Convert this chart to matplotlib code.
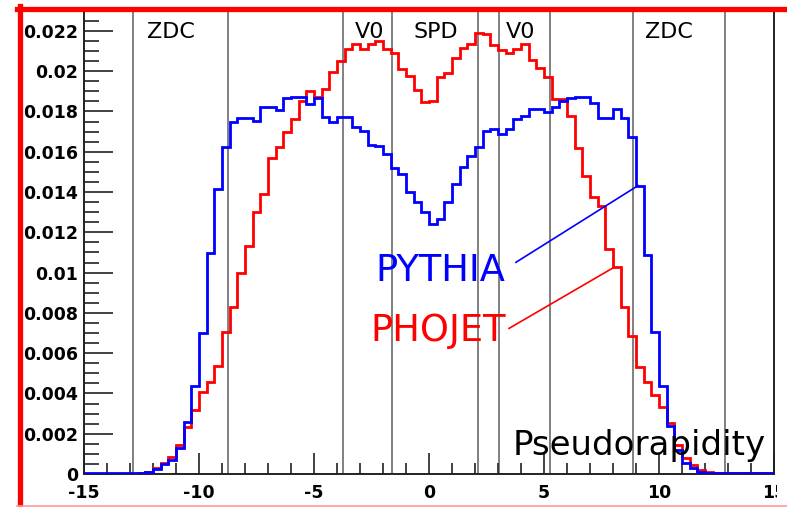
import numpy as np
from matplotlib import pyplot as plt
from matplotlib.patches import Rectangle
from matplotlib.lines import Line2D
from matplotlib.ticker import MultipleLocator, FuncFormatter

plt.rcParams["axes.unicode_minus"] = False

# 90 bins of pseudorapidity from -15 to 15
eta_edges = np.linspace(-15, 15, 91)

pythia = [
    0.00003, 0.00003, 0.00003, 0.00003, 0.00003, 0.00003, 0.00003, 0.00005, 0.0001,
    0.00025, 0.0005, 0.00069, 0.00127, 0.00259, 0.00436, 0.0070, 0.01099, 0.01416, 0.01622,
    0.01746, 0.0177, 0.0177, 0.01754, 0.0182, 0.0182, 0.01807, 0.01867, 0.01873, 0.01873,
    0.01837, 0.01867, 0.01775, 0.0175, 0.01775, 0.01775, 0.01721, 0.01705, 0.01635, 0.0163,
    0.0159, 0.0152, 0.0149, 0.0140, 0.0135, 0.0130, 0.01242, 0.01267, 0.0135, 0.0144,
    0.01523, 0.01581, 0.01622, 0.01705, 0.01713, 0.01688, 0.01713, 0.01763, 0.01779, 0.01812,
    0.01812, 0.01796, 0.0182, 0.01853, 0.01867, 0.01873, 0.01873, 0.01841, 0.0177, 0.0177,
    0.0181, 0.0177, 0.01671, 0.01428, 0.01085, 0.00705, 0.00436, 0.00238, 0.00119, 0.00056,
    0.00028, 0.00012, 0.00005,
    0.00003, 0.00003, 0.00003, 0.00003, 0.00003, 0.00003, 0.00003, 0.00003,
]

phojet = [
    0.00002, 0.00002, 0.00002, 0.00002, 0.00002, 0.00002, 0.00002, 0.00004, 0.00008,
    0.00028, 0.00053, 0.00086, 0.00144, 0.00235, 0.0032, 0.00408, 0.00457, 0.00536, 0.00705,
    0.00829, 0.0100, 0.0113, 0.0130, 0.0139, 0.01568, 0.01622, 0.0170, 0.01763, 0.01853,
    0.01903, 0.0187, 0.01911, 0.01994, 0.02052, 0.0211, 0.02134, 0.0211, 0.02134, 0.0215,
    0.0211, 0.0209, 0.0201, 0.01977, 0.01905, 0.01845, 0.0185, 0.01972, 0.0199, 0.02065,
    0.02113, 0.02136, 0.02192, 0.02184, 0.0213, 0.02105, 0.0209, 0.0211, 0.02134, 0.02055,
    0.02018, 0.01973, 0.01862, 0.01862, 0.01779, 0.01618, 0.0148, 0.01374, 0.01333, 0.01118,
    0.01027, 0.00829, 0.00684, 0.00532, 0.00457, 0.00391, 0.00334, 0.00251, 0.00144, 0.00078,
    0.00045, 0.0002, 0.00008,
    0.00003, 0.00003, 0.00003, 0.00003, 0.00006, 0.00006, 0.00003, 0.00003,
]

# detector acceptance boundaries and their labels
det_lines = [-12.85, -8.75, -3.75, -1.6, 2.15, 3.05, 5.25, 8.85, 12.85]
det_names = ["ZDC", "V0", "SPD", "V0", "ZDC"]
det_name_x = [-11.2, -2.6, 0.3, 4.0, 10.45]

fig = plt.figure(figsize=(7.87, 5.07), dpi=100)
ax = fig.add_axes([84 / 787, 33 / 507, 690 / 787, 462 / 507])

for x in det_lines:
    ax.axvline(x, color="#808080", lw=1.4, zorder=1)
for name, x in zip(det_names, det_name_x):
    ax.text(x, 0.02195, name, ha="center", va="center", fontsize=16, zorder=2)

ax.stairs(phojet, eta_edges, color="#ff0000", lw=2.0, zorder=3)
ax.stairs(pythia, eta_edges, color="#0000ff", lw=2.0, zorder=4)

# generator labels with pointer lines
ax.text(0.5, 0.0101, "PYTHIA", color="#0000ff", fontsize=26.5, ha="center", va="center")
ax.plot([3.78, 9.09], [0.01051, 0.01432], color="#0000ff", lw=1.2, zorder=5)
ax.text(0.4, 0.00715, "PHOJET", color="#ff0000", fontsize=26.5, ha="center", va="center")
ax.plot([3.48, 8.04], [0.00723, 0.01026], color="#ff0000", lw=1.2, zorder=5)

ax.text(3.65, 0.00094, "Pseudorapidity", fontsize=24.5, ha="left", va="baseline", zorder=6)

ax.set_xlim(-15, 15)
ax.set_ylim(0, 0.02294)
ax.xaxis.set_major_locator(MultipleLocator(5))
ax.xaxis.set_minor_locator(MultipleLocator(1))
ax.yaxis.set_major_locator(MultipleLocator(0.002))
ax.yaxis.set_minor_locator(MultipleLocator(0.0005))
ax.yaxis.set_major_formatter(FuncFormatter(lambda v, pos: "0" if abs(v) < 1e-9 else f"{v:.3f}".rstrip("0")))
ax.tick_params(which="both", direction="in", top=False, right=False, width=1.3, color="#333333")
ax.tick_params(which="major", axis="y", length=21, pad=4)
ax.tick_params(which="minor", axis="y", length=11)
ax.tick_params(which="major", axis="x", length=15, pad=7)
ax.tick_params(which="minor", axis="x", length=8)
for lbl in ax.get_xticklabels() + ax.get_yticklabels():
    lbl.set_fontweight("bold")
    lbl.set_fontsize(12.5)
ax.spines["top"].set_visible(False)
for s in ["left", "bottom", "right"]:
    ax.spines[s].set_linewidth(1.4)
    ax.spines[s].set_color("#222222")

# image frame: red border, right part of the picture cropped
fig.patches.append(Rectangle((777 / 787, 0.01), 10 / 787, 0.97, transform=fig.transFigure,
                             facecolor="white", edgecolor="none", zorder=10))
fig.lines.append(Line2D([19.5 / 787, 19.5 / 787], [0, 1 - 6 / 507], transform=fig.transFigure,
                        color="#ff0000", lw=3.8, zorder=11))
fig.lines.append(Line2D([17 / 787, 1], [1 - 8.5 / 507, 1 - 8.5 / 507], transform=fig.transFigure,
                        color="#ff0000", lw=3.8, zorder=11))
fig.lines.append(Line2D([17 / 787, 1], [1.5 / 507, 1.5 / 507], transform=fig.transFigure,
                        color="#ff9999", lw=1.2, zorder=11))

plt.savefig("out.png", dpi=100)
